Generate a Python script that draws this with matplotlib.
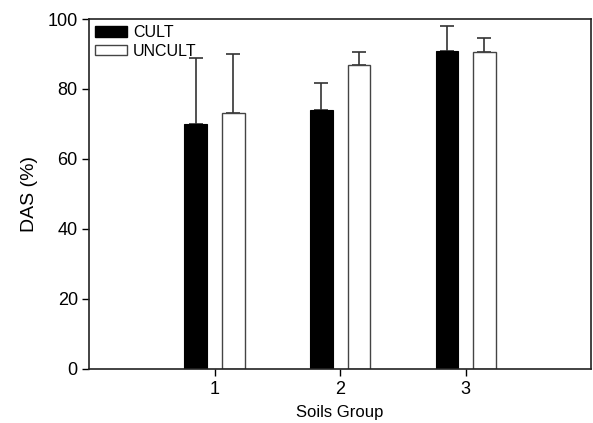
import numpy as np
import matplotlib.pyplot as plt
from matplotlib.patches import Patch

# data
groups = [1, 2, 3]
cult = [69.9, 74.1, 90.9]
cult_err = [19.1, 7.5, 7.1]
uncult = [73.1, 86.9, 90.5]
uncult_err = [16.9, 3.6, 4.0]

plt.rcParams['font.family'] = ['Liberation Sans', 'DejaVu Sans']

fig = plt.figure(figsize=(5.93, 4.23), dpi=100)
ax = fig.add_axes([0.150, 0.128, 0.847, 0.827])

x = np.array(groups)
w = 0.18
off = 0.15
# error bars below the bars so the zero-length lower cap is hidden
ax.errorbar(x - off, cult, yerr=[np.zeros(3), cult_err], fmt='none',
            ecolor='#333333', elinewidth=1.2, capsize=5, capthick=1.2, zorder=1)
ax.errorbar(x + off, uncult, yerr=[np.zeros(3), uncult_err], fmt='none',
            ecolor='#333333', elinewidth=1.2, capsize=5, capthick=1.2, zorder=1)
ax.bar(x - off, cult, w, color='black', edgecolor='black', linewidth=0.8, zorder=2)
ax.bar(x + off, uncult, w, color='white', edgecolor='#444444', linewidth=1.0, zorder=2)

ax.set_xlim(0, 4)
ax.set_ylim(0, 100)
ax.set_xticks(groups)
ax.set_yticks([0, 20, 40, 60, 80, 100])
ax.tick_params(axis='both', direction='out', length=5, width=1, labelsize=13,
               top=False, right=False)
ax.tick_params(axis='y', pad=3)
for s in ax.spines.values():
    s.set_linewidth(1.2)
    s.set_color('#222222')

ax.set_ylabel('DAS (%)', fontsize=14, labelpad=7)
ax.set_xlabel('Soils Group', fontsize=12, labelpad=5)

handles = [Patch(facecolor='black', edgecolor='black', label='CULT'),
           Patch(facecolor='white', edgecolor='#444444', label='UNCULT')]
ax.legend(handles=handles, loc='upper left', frameon=False, fontsize=11.5,
          handlelength=2.0, handleheight=0.65, handletextpad=0.35,
          labelspacing=0.2, borderaxespad=0.2, borderpad=0.2)

fig.savefig('out.png', dpi=100)
